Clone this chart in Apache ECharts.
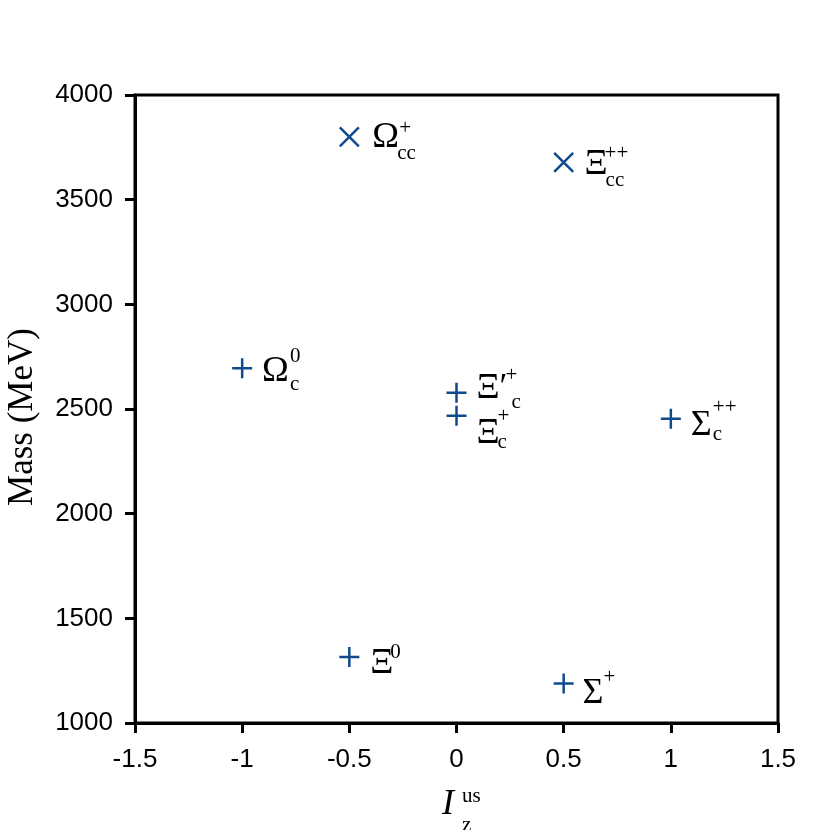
<!DOCTYPE html>
<html>
<head>
<meta charset="utf-8">
<script src="https://cdn.jsdelivr.net/npm/echarts@6/dist/echarts.min.js"></script>
<style>
  html, body { margin: 0; padding: 0; background: #fff; }
  #main { width: 830px; height: 830px; }
</style>
</head>
<body>
<div id="main"></div>
<script>
// data
const isospin = [-0.5, 0.5, -1, 0, 0, 1, -0.5, 0.5];
const mass = [3800, 3678, 2695, 2578, 2468, 2453, 1315, 1189];
const marker = ['x', 'x', '+', '+', '+', '+', '+', '+'];
const baseText = ['Ω', 'Ξ', 'Ω', 'Ξ′', 'Ξ', 'Σ', 'Ξ', 'Σ'];
const supText = ['+', '++', '0', '+', '+', '++', '0', '+'];
const subText = ['cc', 'cc', 'c', 'c', 'c', 'c', '', ''];

// label placement next to each marker (pixels)
const baseShift = [[23, 1], [21, 2], [20, 3], [20, -4], [20, 18], [20, 7], [21, 7], [19, 10]];
const supShift = [[50, -8], [41, -9], [48, -12], [49, -17], [41, 1], [42, -11], [41, -5], [40, -6]];
const subShift = [[48, 17], [42, 18], [48, 16], [55, 10], [41, 27], [42, 16], [0, 0], [0, 0]];

const blue = '#0f4a8c';
const serif = 'Liberation Serif';

function markerData(kind) {
    let d = [];
    for (let i = 0; i < mass.length; i++) {
        if (marker[i] === kind) d.push([isospin[i], mass[i]]);
    }
    return d;
}

function labelSeries(texts, shifts, size) {
    let d = [];
    for (let i = 0; i < mass.length; i++) {
        if (!texts[i]) continue;
        d.push({
            value: [isospin[i], mass[i]],
            label: { formatter: texts[i], position: shifts[i] }
        });
    }
    return {
        type: 'scatter',
        data: d,
        symbol: 'circle',
        symbolSize: 0.1,
        itemStyle: { color: 'rgba(0,0,0,0)', opacity: 1 },
        silent: true,
        z: 5,
        label: {
            show: true,
            align: 'left',
            verticalAlign: 'middle',
            color: '#000',
            opacity: 1,
            fontFamily: serif,
            fontSize: size
        }
    };
}

const myCharts = echarts.init(document.getElementById('main'));
const option = {
    animation: false,
    grid: {
        left: 135, right: 52, top: 95, bottom: 107,
        outerBoundsMode: 'none',
        containLabel: false,
        show: true, borderColor: '#000', borderWidth: 3
    },
    xAxis: {
        type: 'value',
        min: -1.5, max: 1.5, interval: 0.5,
        axisLine: { onZero: false, lineStyle: { color: '#000', width: 3 } },
        axisTick: { length: 10, lineStyle: { color: '#000', width: 3 } },
        axisLabel: { color: '#000', fontSize: 26, fontFamily: 'Liberation Sans', margin: 24 },
        splitLine: { show: false }
    },
    yAxis: {
        type: 'value',
        min: 1000, max: 4000, interval: 500,
        name: 'Mass (MeV)',
        nameLocation: 'middle',
        nameGap: 95,
        nameTextStyle: { color: '#000', fontSize: 35, fontFamily: serif, padding: [0, 16, 0, 0] },
        axisLine: { onZero: false, lineStyle: { color: '#000', width: 3 } },
        axisTick: { length: 10, lineStyle: { color: '#000', width: 3 } },
        axisLabel: {
            color: '#000', fontSize: 26, fontFamily: 'Liberation Sans', margin: 22,
            formatter: v => String(v)
        },
        splitLine: { show: false }
    },
    graphic: [
        { type: 'text', left: 442, top: 787, style: { text: 'I', font: 'italic 36px "Liberation Serif"', fill: '#000' } },
        { type: 'text', left: 462, top: 786, style: { text: 'us', font: '21px "Liberation Serif"', fill: '#000' } },
        { type: 'text', left: 462, top: 815, style: { text: 'z', font: '21px "Liberation Serif"', fill: '#000' } }
    ],
    series: [
        {
            type: 'scatter',
            data: markerData('+'),
            symbol: 'path://M0,10L20,10M10,0L10,20',
            symbolSize: 20,
            itemStyle: { color: 'rgba(0,0,0,0)', borderColor: blue, borderWidth: 2.5, opacity: 1 },
            z: 6
        },
        {
            type: 'scatter',
            data: markerData('x'),
            symbol: 'path://M0,0L20,20M20,0L0,20',
            symbolSize: 19,
            itemStyle: { color: 'rgba(0,0,0,0)', borderColor: blue, borderWidth: 2.5, opacity: 1 },
            z: 6
        },
        labelSeries(baseText, baseShift, 36),
        labelSeries(supText, supShift, 21),
        labelSeries(subText, subShift, 21)
    ]
};
myCharts.setOption(option);
</script>
</body>
</html>
